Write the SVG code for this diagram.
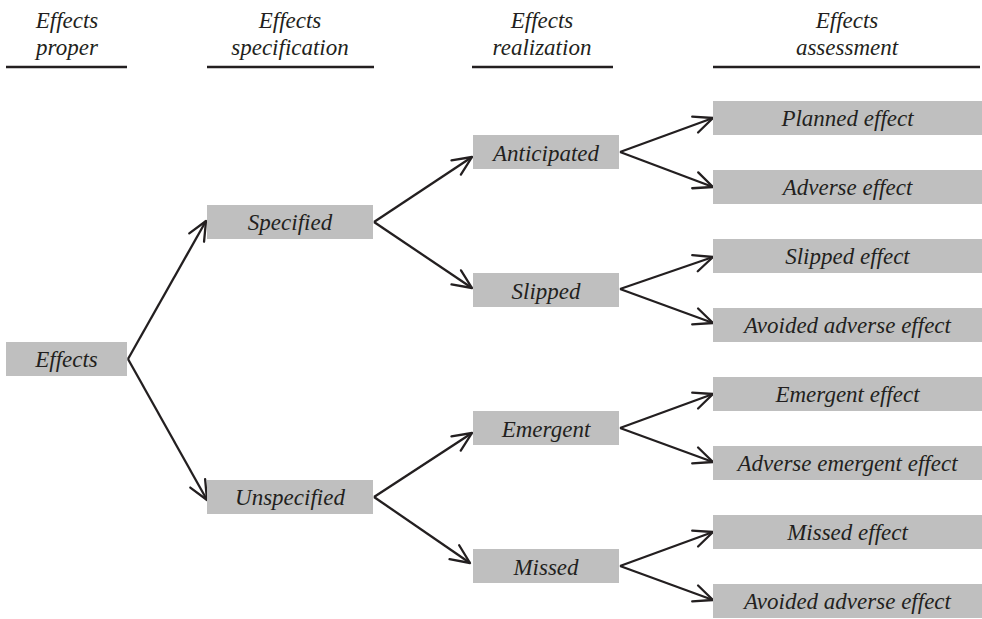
<svg xmlns="http://www.w3.org/2000/svg" width="982" height="619" viewBox="0 0 982 619">
<defs>
<style>
.b{fill:#bfbfbf}
.ul{stroke:#231f20;stroke-width:2.6}
.c{stroke:#231f20;stroke-width:2.3;fill:none;marker-end:url(#ah)}
</style>
<marker id="ah" markerWidth="30" markerHeight="30" refX="0" refY="0" orient="auto" markerUnits="userSpaceOnUse" overflow="visible">
<path d="M-19,-8.5 L0,0 L-19,8.5" fill="none" stroke="#231f20" stroke-width="2.3" stroke-linejoin="round" stroke-linecap="round"/>
</marker>
</defs>
<rect width="982" height="619" fill="#ffffff"/>
<g id="headers" font-size="23" fill="#231f20" text-anchor="middle">
<text x="67" y="28" font-family="Times New Roman" font-style="italic">Effects</text><text x="67" y="55" font-family="Times New Roman" font-style="italic">proper</text>
<line class="ul" x1="6" y1="67" x2="127" y2="67"/>
<text x="290" y="28" font-family="Times New Roman" font-style="italic">Effects</text><text x="290" y="55" font-family="Times New Roman" font-style="italic">specification</text>
<line class="ul" x1="207" y1="67" x2="374" y2="67"/>
<text x="542" y="28" font-family="Times New Roman" font-style="italic">Effects</text><text x="542" y="55" font-family="Times New Roman" font-style="italic">realization</text>
<line class="ul" x1="472" y1="67" x2="613" y2="67"/>
<text x="847" y="28" font-family="Times New Roman" font-style="italic">Effects</text><text x="847" y="55" font-family="Times New Roman" font-style="italic">assessment</text>
<line class="ul" x1="713" y1="67" x2="980" y2="67"/>
</g>
<g id="connectors">
<line class="c" x1="128" y1="359" x2="206" y2="221"/>
<line class="c" x1="128" y1="359" x2="207" y2="500"/>
<line class="c" x1="374" y1="222" x2="472" y2="157"/>
<line class="c" x1="374" y1="222" x2="472" y2="288"/>
<line class="c" x1="374" y1="497" x2="472" y2="433"/>
<line class="c" x1="374" y1="497" x2="470" y2="563"/>
<line class="c" x1="620" y1="152" x2="713" y2="118"/>
<line class="c" x1="620" y1="152" x2="713" y2="187"/>
<line class="c" x1="620" y1="289" x2="713" y2="257"/>
<line class="c" x1="620" y1="289" x2="713" y2="323"/>
<line class="c" x1="620" y1="428" x2="713" y2="394"/>
<line class="c" x1="620" y1="428" x2="713" y2="462"/>
<line class="c" x1="620" y1="566" x2="713" y2="532"/>
<line class="c" x1="620" y1="566" x2="713" y2="600"/>
</g>
<g font-size="23" fill="#231f20" text-anchor="middle">
<g id="n-effects"><rect class="b" x="6" y="342" width="121" height="34"/><text x="66.5" y="367" font-family="Times New Roman" font-style="italic">Effects</text></g>
<g id="n-specified"><rect class="b" x="207" y="205" width="166" height="34"/><text x="290" y="230" font-family="Times New Roman" font-style="italic">Specified</text></g>
<g id="n-unspecified"><rect class="b" x="207" y="480" width="166" height="34"/><text x="290" y="505" font-family="Times New Roman" font-style="italic">Unspecified</text></g>
<g id="n-anticipated"><rect class="b" x="473" y="135" width="146" height="34"/><text x="546" y="161" font-family="Times New Roman" font-style="italic">Anticipated</text></g>
<g id="n-slipped"><rect class="b" x="473" y="273" width="146" height="34"/><text x="546" y="299" font-family="Times New Roman" font-style="italic">Slipped</text></g>
<g id="n-emergent"><rect class="b" x="473" y="411" width="146" height="34"/><text x="546" y="437" font-family="Times New Roman" font-style="italic">Emergent</text></g>
<g id="n-missed"><rect class="b" x="473" y="549" width="146" height="34"/><text x="546" y="575" font-family="Times New Roman" font-style="italic">Missed</text></g>
<g id="n-planned"><rect class="b" x="713" y="101" width="269" height="34"/><text x="847.5" y="126" font-family="Times New Roman" font-style="italic">Planned effect</text></g>
<g id="n-adverse"><rect class="b" x="713" y="170" width="269" height="34"/><text x="847.5" y="195" font-family="Times New Roman" font-style="italic">Adverse effect</text></g>
<g id="n-slipped-effect"><rect class="b" x="713" y="239" width="269" height="34"/><text x="847.5" y="264" font-family="Times New Roman" font-style="italic">Slipped effect</text></g>
<g id="n-avoided1"><rect class="b" x="713" y="308" width="269" height="34"/><text x="847.5" y="333" font-family="Times New Roman" font-style="italic">Avoided adverse effect</text></g>
<g id="n-emergent-effect"><rect class="b" x="713" y="377" width="269" height="34"/><text x="847.5" y="402" font-family="Times New Roman" font-style="italic">Emergent effect</text></g>
<g id="n-adverse-emergent"><rect class="b" x="713" y="446" width="269" height="34"/><text x="847.5" y="471" font-family="Times New Roman" font-style="italic">Adverse emergent effect</text></g>
<g id="n-missed-effect"><rect class="b" x="713" y="515" width="269" height="34"/><text x="847.5" y="540" font-family="Times New Roman" font-style="italic">Missed effect</text></g>
<g id="n-avoided2"><rect class="b" x="713" y="584" width="269" height="34"/><text x="847.5" y="609" font-family="Times New Roman" font-style="italic">Avoided adverse effect</text></g>
</g>
</svg>
